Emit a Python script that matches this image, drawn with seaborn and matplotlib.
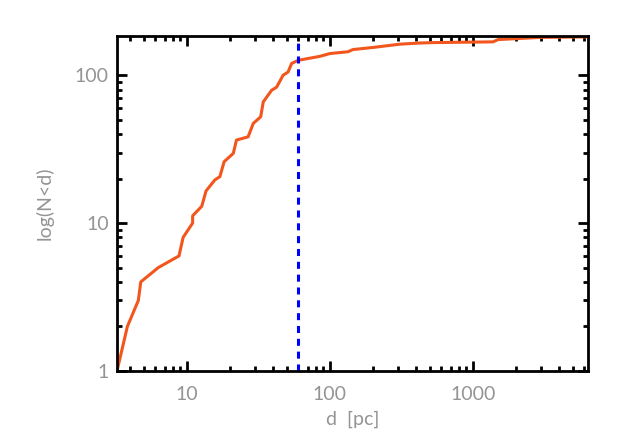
import matplotlib
matplotlib.use("Agg")
import matplotlib.pyplot as plt
import matplotlib.ticker as mticker
import seaborn as sns
import pandas as pd

# cumulative distance distribution
dist_pc = [3.24, 3.83, 4.57, 4.75, 6.3, 8.8, 9.4, 10.96, 10.96, 12.7, 13.6,
           15.7, 17.0, 18.2, 21.1, 22.2, 26.8, 29.1, 32.8, 34.2, 39.1, 42.4,
           47.1, 51.0, 54.0, 60.0, 85.0, 100.0, 134.0, 145.0, 201.0, 309.0,
           427.0, 525.0, 1387.0, 1503.0, 2944.0, 6270.0]
n_cum = [1, 2.0, 3.0, 4.0, 5.0, 6.0, 8.0, 10.0, 11.2, 13.0, 16.5,
         19.6, 20.6, 26.0, 29.6, 36.4, 38.3, 47.2, 52.3, 66.0, 79.0, 83.0,
         100.0, 105.0, 120.0, 126.0, 134.0, 140.0, 144.0, 149.0, 154.0, 162.0,
         165.0, 166.0, 168.0, 174.0, 180.0, 181.5]
cut_pc = 60.0

x_ticks = [10, 100, 1000]
y_ticks = [1, 10, 100]

df = pd.DataFrame({"d": dist_pc, "N": n_cum})

sns.set_style("ticks")
plt.rcParams["font.family"] = ["Lato", "DejaVu Sans"]

text_grey = "#949494"

fig = plt.figure(figsize=(6.23, 4.45), dpi=100)
ax = fig.add_axes([0.1878, 0.1663, 0.7560, 0.7528])

sns.lineplot(data=df, x="d", y="N", ax=ax, color="#f2561d", linewidth=2.2,
             sort=False, estimator=None)
ax.axvline(cut_pc, color="#0000ff", linestyle=(0, (2.3, 1.9)), linewidth=2.2)

ax.set_xscale("log")
ax.set_yscale("log")
ax.set_xlim(3.24, 6400)
ax.set_ylim(1, 184)

fmt = mticker.FuncFormatter(lambda v, p: "%d" % v)
ax.xaxis.set_major_locator(mticker.FixedLocator(x_ticks))
ax.yaxis.set_major_locator(mticker.FixedLocator(y_ticks))
ax.xaxis.set_major_formatter(fmt)
ax.yaxis.set_major_formatter(fmt)
ax.xaxis.set_minor_locator(mticker.LogLocator(base=10, subs=range(2, 10)))
ax.yaxis.set_minor_locator(mticker.LogLocator(base=10, subs=range(2, 10)))
ax.xaxis.set_minor_formatter(mticker.NullFormatter())
ax.yaxis.set_minor_formatter(mticker.NullFormatter())

for s in ax.spines.values():
    s.set_visible(True)
    s.set_linewidth(2.0)
    s.set_color("black")

ax.tick_params(which="both", direction="in", top=True, right=True,
               color="black", labelcolor=text_grey, labelsize=14)
ax.tick_params(which="major", length=7, width=2.0, pad=11)
ax.tick_params(which="minor", length=3.5, width=2.0)
ax.tick_params(axis="y", which="major", pad=6)

ax.set_xlabel("d  [pc]", color=text_grey, fontsize=14, labelpad=5)
ax.set_ylabel("log(N<d)", color=text_grey, fontsize=14, labelpad=15)

fig.savefig("out.png", dpi=100)
